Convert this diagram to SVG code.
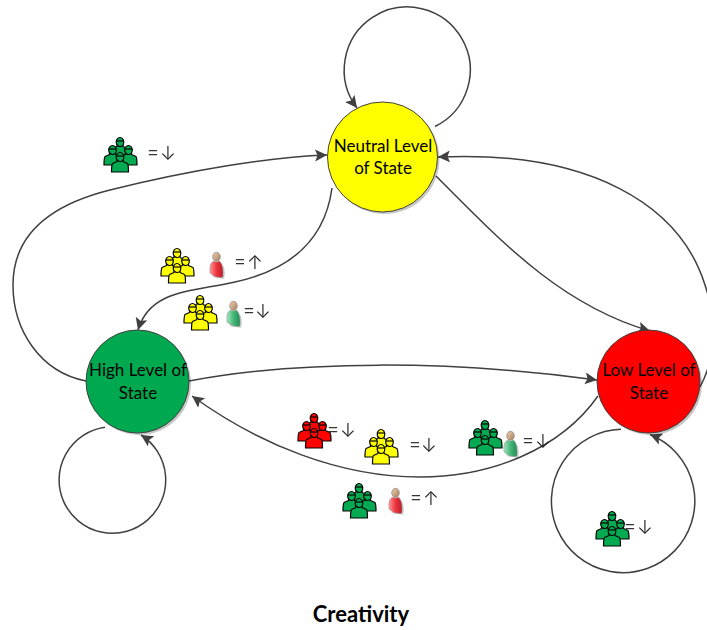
<svg xmlns="http://www.w3.org/2000/svg" width="707" height="630" viewBox="0 0 707 630">
<style>
.c{fill:none;stroke:#404040;stroke-width:1.5;marker-end:url(#a)}
.n{stroke:#404040;stroke-width:1}
.s{fill:#000;opacity:.22}
.t{font-family:"Lato","Liberation Sans",sans-serif;font-size:17px;fill:#000;text-anchor:middle}
.e{font-family:"Liberation Sans",sans-serif;font-size:17px;fill:#333}
.ar{font-family:"Inter",sans-serif;font-size:19px;font-weight:300;fill:#222;text-anchor:middle}
.ti{font-family:"Lato","Liberation Sans",sans-serif;font-size:22px;font-weight:700;fill:#000;text-anchor:middle}
.gc{fill:#00a94f}.yc{fill:#ffff00}.rc{fill:#ff0000}
#legend{opacity:.99}
</style>
<defs>
<marker id="a" markerUnits="userSpaceOnUse" markerWidth="14" markerHeight="14" refX="12" refY="6" orient="auto"><path d="M0,0L12,6L0,12L2.500,6Z" fill="#404040"/></marker>
<g id="f" stroke="#000" stroke-width="1.200" stroke-linejoin="round"><path d="M-3,6L-3,8.500L-7.500,10.500Q-8.500,12-8.500,19L8.500,19Q8.500,12 7.500,10.500L3,8.500L3,6Z"/><ellipse cx="0" cy="4" rx="3.800" ry="4.500"/><path d="M-3.800,3H3.800" fill="none"/></g>
<g id="crowd"><use href="#f" x="16" y="0"/><use href="#f" x="8.500" y="8"/><use href="#f" x="24.500" y="8"/><use href="#f" x="16" y="15"/></g>
<linearGradient id="gr" x1="0" x2="1" y1="0" y2="0"><stop offset="0" stop-color="#ff9a9a"/><stop offset=".5" stop-color="#f0323c"/><stop offset="1" stop-color="#b81d28"/></linearGradient>
<linearGradient id="gg" x1="0" x2="1" y1="0" y2="0"><stop offset="0" stop-color="#a5e6c0"/><stop offset=".5" stop-color="#44b878"/><stop offset="1" stop-color="#1f8a52"/></linearGradient>
<linearGradient id="gh" x1="0" x2="1" y1="0" y2="1"><stop offset="0" stop-color="#eed0b0"/><stop offset="1" stop-color="#a87c58"/></linearGradient>
<g id="pb"><path d="M3,25L15,27L16,22L15,14Z" fill="#000" opacity=".18"/><ellipse cx="7.500" cy="4.800" rx="3.800" ry="4.500" fill="url(#gh)" stroke="#777" stroke-width=".6"/></g>
<g id="pr"><use href="#pb"/><path d="M4.500,9Q1,11 .8,16L1,21Q6,26 12,25.500L14,25Q14.500,14 12,11L10.500,9Q7.500,11 4.500,9Z" fill="url(#gr)" stroke="#999" stroke-width=".6"/></g>
<g id="pg"><use href="#pb"/><path d="M4.500,9Q1,11 .8,16L1,21Q6,26 12,25.500L14,25Q14.500,14 12,11L10.500,9Q7.500,11 4.500,9Z" fill="url(#gg)" stroke="#999" stroke-width=".6"/></g>
</defs>
<rect width="707" height="630" fill="#fff"/>
<g id="connectors">
<path class="c" d="M435,126.500A63,63 0 1 0 357,108"/>
<path class="c" d="M105,427.200A53.300,53.300 0 1 0 141,435"/>
<path class="c" d="M621,429.300A71.700,71.700 0 1 0 650,434.500"/>
<path class="c" d="M436,176C500,240 560,305 650,331"/>
<path class="c" d="M332,188C325,240 290,270 235,282C190,292 150,290 138,330"/>
<path class="c" d="M86,381C40,372 13,330 13,285C13,235 50,205 110,190C190,170 270,157 327,155"/>
<path class="c" d="M189,381C300,360 450,360 597,380"/>
<path class="c" d="M598,396C560,450 490,477 420,477C340,477 260,445 192,396"/>
<path class="c" d="M700,387C712,365 720,330 705,285C680,205 590,150 438,157"/>
</g>
<g id="node-neutral"><circle class="s" cx="384.500" cy="159" r="55"/><circle class="n" cx="382.500" cy="157" r="55" fill="#ffff00"/><text class="t" x="383" y="152">Neutral Level</text><text class="t" x="383" y="174">of State</text></g>
<g id="node-high"><circle class="s" cx="139.500" cy="383.500" r="51.500"/><circle class="n" cx="137.500" cy="381.500" r="51.500" fill="#00a94f"/><text class="t" x="138" y="376">High Level of</text><text class="t" x="138" y="399">State</text></g>
<g id="node-low"><circle class="s" cx="650.500" cy="383.500" r="51.500"/><circle class="n" cx="648.500" cy="381.500" r="51.500" fill="#ff0000"/><text class="t" x="649" y="376">Low Level of</text><text class="t" x="649" y="399">State</text></g>
<g id="legend">
<use href="#crowd" class="gc" x="104" y="138"/><text class="e" x="148" y="158">=</text><text class="ar" x="168" y="160">↓</text>
<use href="#crowd" class="yc" x="161" y="249"/><use href="#pr" x="209" y="252"/><text class="e" x="235" y="267">=</text><text class="ar" x="255" y="269">↑</text>
<use href="#crowd" class="yc" x="184" y="296"/><use href="#pg" x="226" y="301"/><text class="e" x="244" y="316">=</text><text class="ar" x="263" y="318">↓</text>
<use href="#crowd" class="rc" x="298" y="414"/><text class="e" x="328" y="435">=</text><text class="ar" x="348" y="437">↓</text>
<use href="#crowd" class="yc" x="365" y="430"/><text class="e" x="410" y="450">=</text><text class="ar" x="429" y="452">↓</text>
<use href="#crowd" class="gc" x="469" y="421"/><use href="#pg" x="503" y="431"/><text class="e" x="523" y="446">=</text><text class="ar" x="543" y="448">↓</text>
<use href="#crowd" class="gc" x="343" y="484"/><use href="#pr" x="388" y="488"/><text class="e" x="411" y="503">=</text><text class="ar" x="431" y="505">↑</text>
<use href="#crowd" class="gc" x="596" y="512"/><text class="e" x="625" y="532">=</text><text class="ar" x="645" y="534">↓</text>
</g>
<text class="ti" x="361" y="622">Creativity</text>
</svg>
